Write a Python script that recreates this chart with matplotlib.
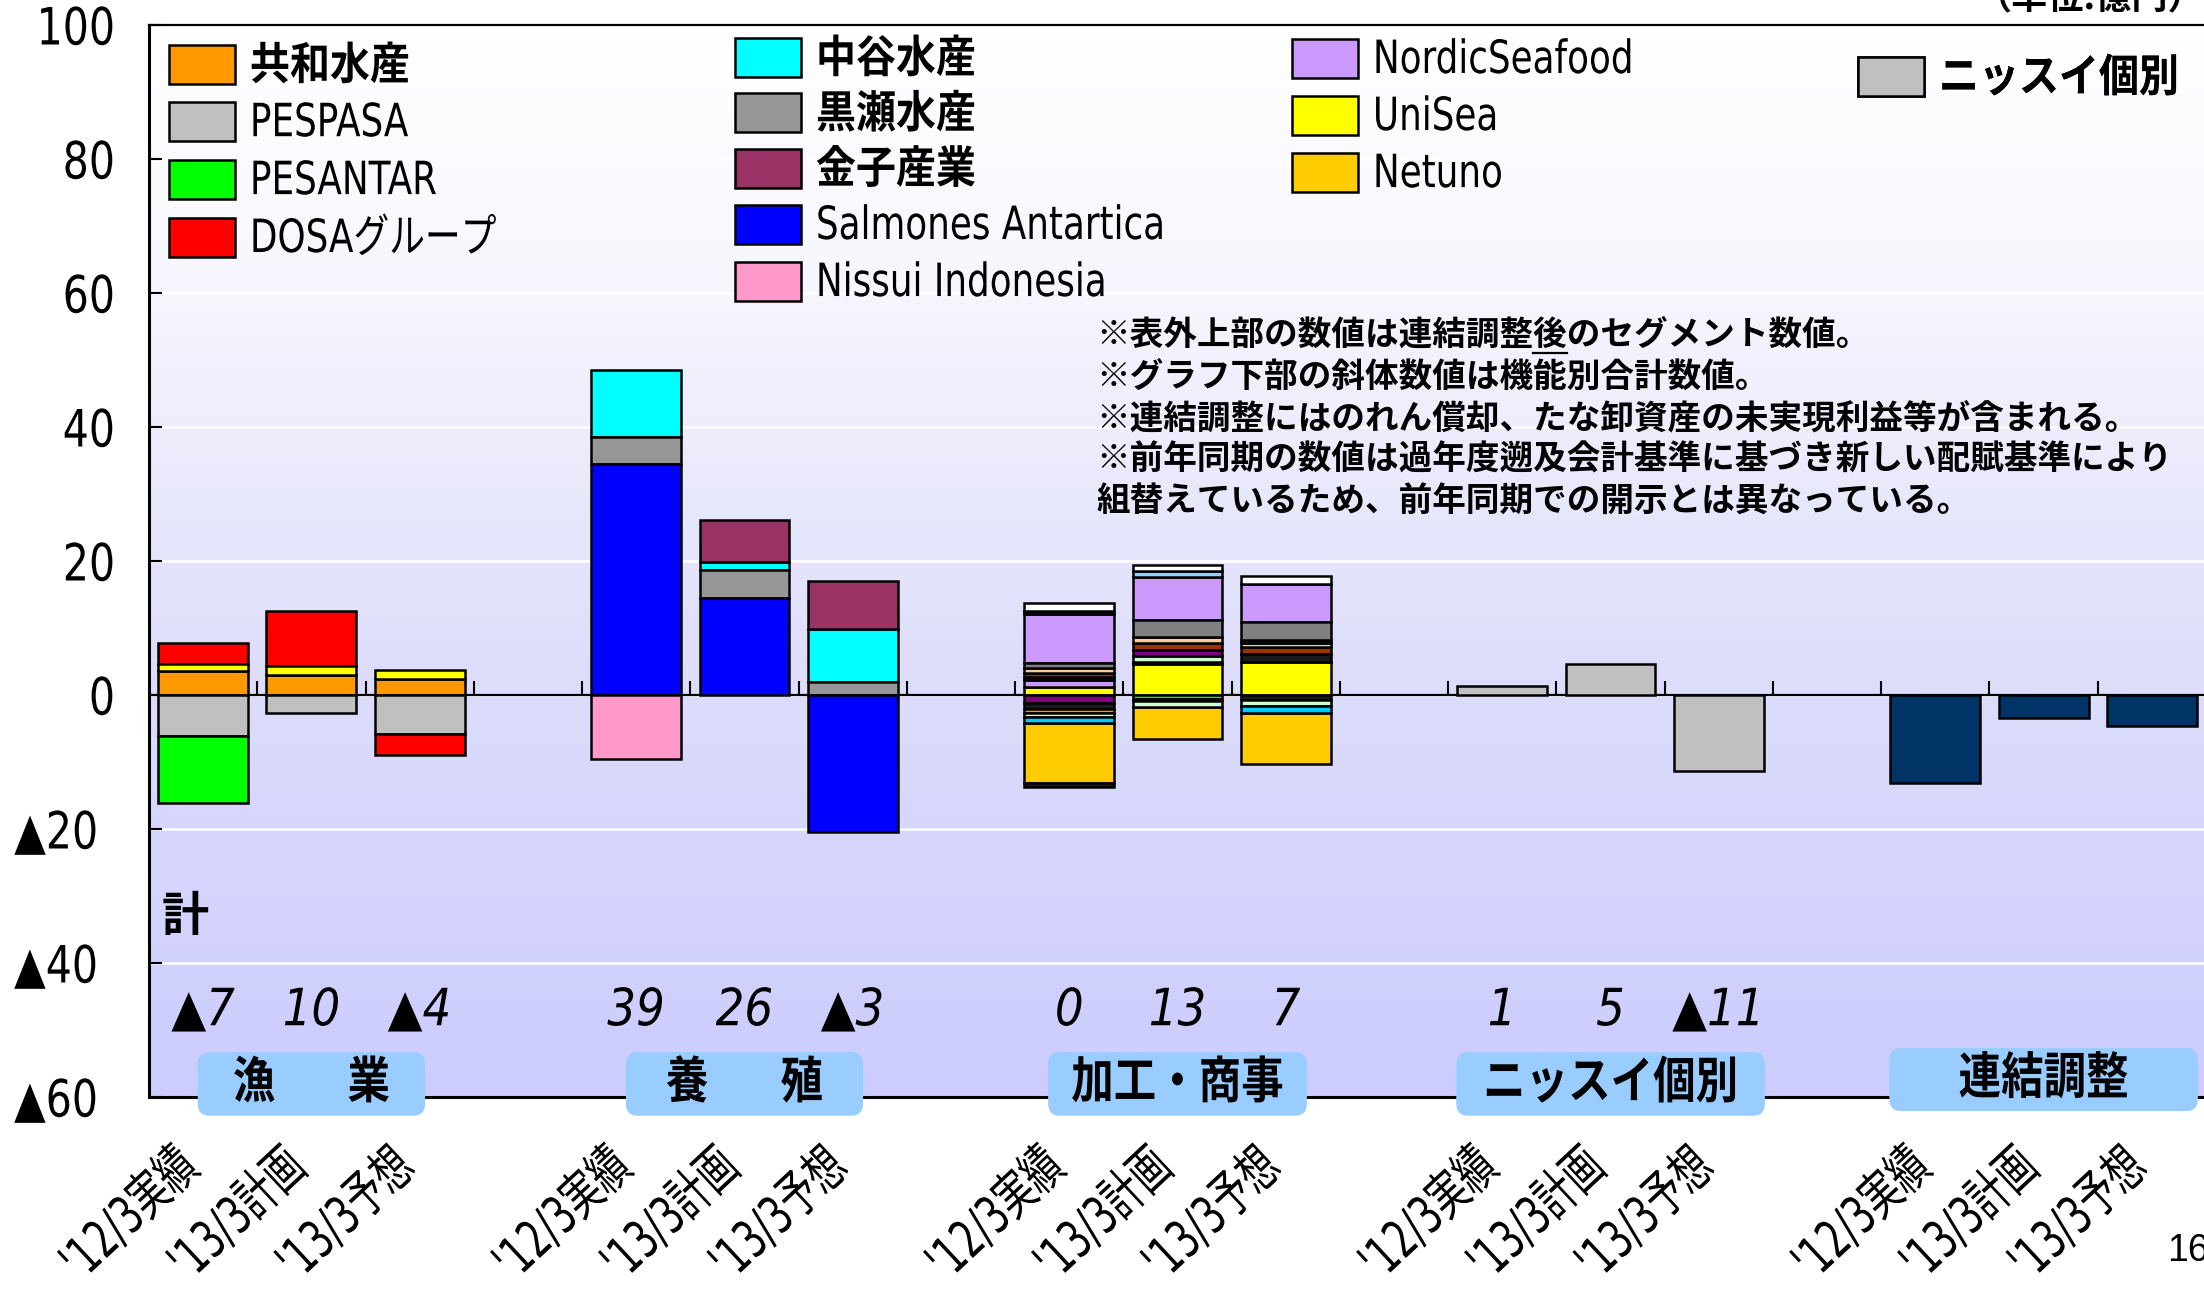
import numpy as np
import matplotlib
matplotlib.use("Agg")
import matplotlib.pyplot as plt
from matplotlib import font_manager
from matplotlib.colors import LinearSegmentedColormap
from matplotlib.patches import FancyBboxPatch
from matplotlib.lines import Line2D
from matplotlib.patheffects import AbstractPathEffect
from matplotlib.transforms import Affine2D, ScaledTranslation

# ---------------- categories & labels ----------------
segments = ["漁　  業", "養　  殖", "加工・商事", "ニッスイ個別", "連結調整"]
periods = ["'12/3実績", "'13/3計画", "'13/3予想"]

# functional totals printed under the bars (億円); None = not printed
totals = [-7, 10, -4, 39, 26, -3, 0, 13, 7, 1, 5, -11, None, None, None]

# ---------------- series values: one entry per bar ----------------
#                 漁業            養殖              加工・商事             ニッスイ個別        連結調整
kyowa          = [3.6, 3.0, 2.4,   0, 0, 0,          0, 0, 0,             0, 0, 0,            0, 0, 0]
pespasa        = [-6.1, -2.7, -5.8, 0, 0, 0,         0, 0, 0,             0, 0, 0,            0, 0, 0]
pesantar       = [-10.0, 0, 0,     0, 0, 0,          0, 0, 0,             0, 0, 0,            0, 0, 0]
dosa           = [3.1, 8.3, -3.1,  0, 0, 0,          0, 0, 0,             0, 0, 0,            0, 0, 0]
unisea         = [1.1, 1.3, 1.3,   0, 0, 0,          1.25, 4.6, 4.9,      0, 0, 0,            0, 0, 0]
salmones       = [0, 0, 0,         34.5, 14.5, -20.5, 0, 0, 0,            0, 0, 0,            0, 0, 0]
kurose         = [0, 0, 0,         4.0, 4.1, 2.0,    0, 0, 0,             0, 0, 0,            0, 0, 0]
nakatani       = [0, 0, 0,         10.0, 1.3, 7.8,   0, 0, 0,             0, 0, 0,            0, 0, 0]
kaneko         = [0, 0, 0,         0, 6.2, 7.2,      0, 0, 0,             0, 0, 0,            0, 0, 0]
nissui_indo    = [0, 0, 0,         -9.6, 0, 0,       0, 0, 0,             0, 0, 0,            0, 0, 0]
nordic         = [0, 0, 0,         0, 0, 0,          7.3, 6.35, 5.65,     0, 0, 0,            0, 0, 0]
netuno         = [0, 0, 0,         0, 0, 0,          -9.05, -4.8, -7.55,  0, 0, 0,            0, 0, 0]
nissui_kobetsu = [0, 0, 0,         0, 0, 0,          0, 0, 0,             1.3, 4.7, -11.3,    0, 0, 0]
renketsu       = [0, 0, 0,         0, 0, 0,          0, 0, 0,             0, 0, 0,            -13.1, -3.5, -4.6]

# smaller processing / trading companies (not in the legend)
kako_lilac      = [0, 0, 0, 0, 0, 0,  1.0, 0, 0,       0, 0, 0, 0, 0, 0]
kako_dark_up    = [0, 0, 0, 0, 0, 0,  0.4, 0.4, 1.15,  0, 0, 0, 0, 0, 0]
kako_lgreen_up  = [0, 0, 0, 0, 0, 0,  0, 0.75, 0,      0, 0, 0, 0, 0, 0]
kako_purple     = [0, 0, 0, 0, 0, 0,  -1.25, 0.9, 0,   0, 0, 0, 0, 0, 0]
kako_brown      = [0, 0, 0, 0, 0, 0,  0.7, 1.1, 1.1,   0, 0, 0, 0, 0, 0]
kako_peach      = [0, 0, 0, 0, 0, 0,  0.7, 0.95, 0.65, 0, 0, 0, 0, 0, 0]
kako_dark_mid   = [0, 0, 0, 0, 0, 0,  0, 0, 0.45,      0, 0, 0, 0, 0, 0]
kako_gray       = [0, 0, 0, 0, 0, 0,  0.75, 2.5, 2.7,  0, 0, 0, 0, 0, 0]
kako_dark_top   = [0, 0, 0, 0, 0, 0,  0.5, 0, 0,       0, 0, 0, 0, 0, 0]
kako_lblue      = [0, 0, 0, 0, 0, 0,  0, 1.0, 0,       0, 0, 0, 0, 0, 0]
kako_white      = [0, 0, 0, 0, 0, 0,  1.1, 0.85, 1.2,  0, 0, 0, 0, 0, 0]
kako_green      = [0, 0, 0, 0, 0, 0,  0, -0.65, 0,     0, 0, 0, 0, 0, 0]
kako_dark_low   = [0, 0, 0, 0, 0, 0,  -0.85, -0.2, -0.75, 0, 0, 0, 0, 0, 0]
kako_orange     = [0, 0, 0, 0, 0, 0,  -0.6, 0, 0,      0, 0, 0, 0, 0, 0]
kako_lgreen_low = [0, 0, 0, 0, 0, 0,  -0.65, -0.9, -0.9, 0, 0, 0, 0, 0, 0]
kako_skyblue    = [0, 0, 0, 0, 0, 0,  -0.8, 0, -1.1,   0, 0, 0, 0, 0, 0]
kako_dark_base  = [0, 0, 0, 0, 0, 0,  -0.5, 0, 0,      0, 0, 0, 0, 0, 0]

# name -> (values, colour, legend label)
series = {
    "kyowa": (kyowa, "#FF9900", "共和水産"),
    "pespasa": (pespasa, "#C0C0C0", "PESPASA"),
    "pesantar": (pesantar, "#00FF00", "PESANTAR"),
    "dosa": (dosa, "#FF0000", "DOSAグループ"),
    "nakatani": (nakatani, "#00FFFF", "中谷水産"),
    "kurose": (kurose, "#969696", "黒瀬水産"),
    "kaneko": (kaneko, "#993366", "金子産業"),
    "salmones": (salmones, "#0000FF", "Salmones Antartica"),
    "nissui_indo": (nissui_indo, "#FF99CC", "Nissui Indonesia"),
    "nordic": (nordic, "#CC99FF", "NordicSeafood"),
    "unisea": (unisea, "#FFFF00", "UniSea"),
    "netuno": (netuno, "#FFCC00", "Netuno"),
    "nissui_kobetsu": (nissui_kobetsu, "#C0C0C0", "ニッスイ個別"),
    "renketsu": (renketsu, "#003366", None),
    "kako_lilac": (kako_lilac, "#CC99FF", None),
    "kako_dark_up": (kako_dark_up, "#1A1A1A", None),
    "kako_lgreen_up": (kako_lgreen_up, "#CCFFCC", None),
    "kako_purple": (kako_purple, "#800080", None),
    "kako_brown": (kako_brown, "#993300", None),
    "kako_peach": (kako_peach, "#FFCC99", None),
    "kako_dark_mid": (kako_dark_mid, "#1A1A1A", None),
    "kako_gray": (kako_gray, "#808080", None),
    "kako_dark_top": (kako_dark_top, "#1A1A1A", None),
    "kako_lblue": (kako_lblue, "#99CCFF", None),
    "kako_white": (kako_white, "#FFFFFF", None),
    "kako_green": (kako_green, "#00FF00", None),
    "kako_dark_low": (kako_dark_low, "#1A1A1A", None),
    "kako_orange": (kako_orange, "#FF9900", None),
    "kako_lgreen_low": (kako_lgreen_low, "#CCFFCC", None),
    "kako_skyblue": (kako_skyblue, "#00CCFF", None),
    "kako_dark_base": (kako_dark_base, "#1A1A1A", None),
}

# stacking order outward from zero, separately for gains and losses
stack_up = ["kyowa", "unisea", "dosa", "salmones", "kurose", "nakatani", "kaneko",
            "kako_lilac", "kako_dark_up", "kako_lgreen_up", "kako_purple", "kako_brown",
            "kako_peach", "kako_dark_mid", "kako_gray", "nordic", "kako_dark_top",
            "kako_lblue", "kako_white", "nissui_kobetsu", "renketsu"]
stack_down = ["pespasa", "pesantar", "dosa", "salmones", "nissui_indo", "kako_green",
              "kako_purple", "kako_dark_low", "kako_orange", "kako_lgreen_low",
              "kako_skyblue", "netuno", "kako_dark_base", "nissui_kobetsu", "renketsu"]

# ---------------- fonts ----------------
names = {f.name for f in font_manager.fontManager.ttflist}
CJK = "Noto Sans CJK JP"
LATIN = "Liberation Sans Narrow" if "Liberation Sans Narrow" in names else "DejaVu Sans"
narrow_font = LATIN == "Liberation Sans Narrow"
plt.rcParams["font.family"] = [LATIN, CJK, "DejaVu Sans"]
plt.rcParams["axes.unicode_minus"] = False


class Condense(AbstractPathEffect):
    """Squeeze text glyphs horizontally around a pivot (left, center or right)."""

    def __init__(self, sx, anchor="left"):
        super().__init__()
        self.sx, self.anchor = sx, anchor

    def draw_path(self, renderer, gc, tpath, affine, rgbFace=None):
        ext = tpath.get_extents()
        px = {"left": 0.0, "center": (ext.x0 + ext.x1) / 2, "right": ext.x1}[self.anchor]
        squeeze = Affine2D().translate(-px, 0).scale(self.sx, 1).translate(px, 0)
        renderer.draw_path(gc, tpath, squeeze + affine, rgbFace)


def cond(sx, anchor="left"):
    # the narrow font already is condensed; only squeeze the wide fallback
    return [Condense(1.0 if narrow_font else sx, anchor)]


W, H = 2204, 1289
fig = plt.figure(figsize=(W / 100, H / 100), dpi=100)
fig.patch.set_facecolor("white")

# axes frame in pixels
ax_left, ax_right, ax_top, ax_bottom = 149, 2206, 25, 1097
ax = fig.add_axes([ax_left / W, 1 - ax_bottom / H, (ax_right - ax_left) / W, (ax_bottom - ax_top) / H])

n_bars = len(segments) * len(periods)
x = np.array([g * (len(periods) + 1) + i for g in range(len(segments)) for i in range(len(periods))], float)
xmin, xmax = -0.5, x[-1] + 0.5
ymin, ymax = -60, 100
ax.set_xlim(xmin, xmax)
ax.set_ylim(ymin, ymax)

# vertical background gradient
bg = LinearSegmentedColormap.from_list(
    "bg", [(0.0, "#CCCCFF"), (0.375, "#DCDCFB"), (0.5, "#E4E4FB"), (0.75, "#F6F6FE"), (1.0, "#FFFFFF")])
ax.imshow(np.linspace(0, 1, 256).reshape(-1, 1), cmap=bg, aspect="auto", origin="lower",
          extent=[xmin, xmax, ymin, ymax], zorder=0, interpolation="bilinear")
ax.set_facecolor("none")

ax.set_axisbelow(True)
ax.yaxis.grid(True, color="white", lw=1.8)
yt = np.arange(ymin, ymax + 1, 20)
ax.set_yticks(yt)
ax.set_yticklabels([("▲%d" % -v) if v < 0 else "%d" % v for v in yt])
ax.tick_params(axis="y", direction="in", length=9, width=1.5, pad=24, labelsize=37)

# zero line with small separators between bar slots
ax.axhline(0, color="black", lw=1.6, zorder=1.5)
ax.vlines(np.arange(xmin + 1, xmax - 0.5, 1), 0, 2.1, color="black", lw=1.5, zorder=1.5)

# ---------------- stacked bars ----------------
bottoms = {k: np.zeros(n_bars) for k in series}
base = np.zeros(n_bars)
for k in stack_up:
    v = np.array(series[k][0], float)
    m = v > 0
    bottoms[k][m] = base[m]
    base[m] += v[m]
base = np.zeros(n_bars)
for k in stack_down:
    v = np.array(series[k][0], float)
    m = v < 0
    bottoms[k][m] = base[m]
    base[m] += v[m]

containers = {}
for k, (vals, col, lab) in series.items():
    v = np.array(vals, float)
    m = v != 0
    containers[k] = ax.bar(x[m], v[m], bottom=bottoms[k][m], width=0.83, color=col,
                           edgecolor="black", lw=1.8, zorder=2)

# ---------------- legends ----------------
def all_cjk(s):
    return all(ord(c) > 0x2E80 for c in s)

def add_legend(keys, left_px, top_px, spacing):
    leg = ax.legend([containers[k] for k in keys], [series[k][2] for k in keys],
                    loc="upper left", bbox_to_anchor=(left_px / W, 1 - top_px / H),
                    bbox_transform=fig.transFigure, frameon=False, borderpad=0,
                    borderaxespad=0, handlelength=1.53, handleheight=1.02,
                    handletextpad=0.35, labelspacing=spacing, fontsize=31)
    for t in leg.get_texts():
        if all_cjk(t.get_text()):
            t.set_fontsize(32)
            t.set_fontweight("bold")
            t.set_path_effects(cond(0.9))
        else:
            t.set_fontsize(33)
            t.set_path_effects(cond(0.78))
    leg.set_zorder(5)
    ax.add_artist(leg)

add_legend(["kyowa", "pespasa", "pesantar", "dosa"], 169, 45, 0.3)
add_legend(["nakatani", "kurose", "kaneko", "salmones", "nissui_indo"], 735, 38, 0.28)
add_legend(["nordic", "unisea", "netuno"], 1292, 38, 0.28)
add_legend(["nissui_kobetsu"], 1858, 57, 0.3)

# ---------------- totals and captions ----------------
for xi, t in zip(x, totals):
    if t is None:
        continue
    ax.text(xi, -47.2, ("▲%d" % -t) if t < 0 else "%d" % t, ha="center", va="center",
            fontsize=37, style="italic", zorder=4, path_effects=cond(0.88, "center"))

ax.text(-0.38, -33.3, "計", ha="left", va="center", fontsize=34, fontweight="bold", zorder=4)

# segment name boxes
px_per_x = (ax_right - ax_left) / (xmax - xmin)
px_per_y = (ax_bottom - ax_top) / (ymax - ymin)
box_w = [2.1, 2.19, 2.39, 2.85, 2.85]
for g, name in enumerate(segments):
    cx = x[g * len(periods) + 1]
    y0, h = (-62.8, 9.5) if g < 4 else (-62.1, 9.4)
    patch = FancyBboxPatch((cx - box_w[g] / 2, y0), box_w[g], h,
                           boxstyle="round,pad=0,rounding_size=%f" % (12 / px_per_x),
                           mutation_aspect=px_per_x / px_per_y,
                           fc="#99CCFF", ec="none", zorder=4, clip_on=False)
    ax.add_patch(patch)
    ax.text(cx, y0 + h / 2, name, ha="center", va="center", fontsize=36,
            fontweight="bold", zorder=5, clip_on=False, path_effects=cond(0.85, "center"))

# x tick labels, slanted
ax.set_xticks(x)
ax.set_xticklabels(periods * len(segments), rotation=43, ha="right", va="top",
                   rotation_mode="anchor", fontsize=38)
ax.tick_params(axis="x", length=0, pad=31)
shift_x = ScaledTranslation(-30 / 100, 0, fig.dpi_scale_trans)
for lbl in ax.get_xticklabels():
    lbl.set_path_effects(cond(0.69, "right"))
    lbl.set_transform(lbl.get_transform() + shift_x)

# y tick labels: squeezed, and the ▲ labels set slightly further left
shift_y = ScaledTranslation(-17 / 100, 0, fig.dpi_scale_trans)
for v, tick in zip(yt, ax.yaxis.get_major_ticks()):
    tick.label1.set_path_effects(cond(0.8, "right"))
    if v < 0:
        tick.label1.set_transform(tick.label1.get_transform() + shift_y)

for side in ["left", "bottom", "top", "right"]:
    ax.spines[side].set_color("black")
ax.spines["left"].set_linewidth(2.2)
ax.spines["bottom"].set_linewidth(2.2)
ax.spines["top"].set_linewidth(1.6)
ax.spines["right"].set_visible(False)

# notes
notes = ["※表外上部の数値は連結調整後のセグメント数値。",
         "※グラフ下部の斜体数値は機能別合計数値。",
         "※連結調整にはのれん償却、たな卸資産の未実現利益等が含まれる。",
         "※前年同期の数値は過年度遡及会計基準に基づき新しい配賦基準により",
         "組替えているため、前年同期での開示とは異なっている。"]
note_y = [53.5, 47.2, 41.1, 35.0, 28.9]
note_x_data = xmin + (1096 - ax_left) / px_per_x
note_kw = dict(ha="left", va="center", fontsize=24.2, fontweight="bold",
               family=[CJK, "DejaVu Sans"], zorder=4)
for s, yv in zip(notes, note_y):
    ax.text(note_x_data, yv, s, **note_kw)

# underline under 「後」 in the first note
fig.canvas.draw()
r = fig.canvas.get_renderer()
cut = notes[0].index("後")
t_pre = ax.text(note_x_data, note_y[0], notes[0][:cut], alpha=0, **note_kw)
t_ch = ax.text(note_x_data, note_y[0], notes[0][:cut + 1], alpha=0, **note_kw)
x_a = t_pre.get_window_extent(r).x1
x_b = t_ch.get_window_extent(r).x1
t_pre.remove()
t_ch.remove()
y_line = ax.transData.transform((0, note_y[0]))[1] - 16
fig.add_artist(Line2D([x_a / W, x_b / W], [y_line / H, y_line / H], transform=fig.transFigure,
                      color="black", lw=1.6))

# unit caption and page number
fig.text(1975 / W, 1 - 8 / H, "（単位:億円）", ha="left", va="baseline", fontsize=26,
         fontweight="bold", family=[CJK, "DejaVu Sans"])
fig.text(2167 / W, 1 - 1251 / H, "16", ha="left", va="center", fontsize=27,
         family=["Liberation Sans", "DejaVu Sans"])

fig.savefig("out.png", dpi=100)
